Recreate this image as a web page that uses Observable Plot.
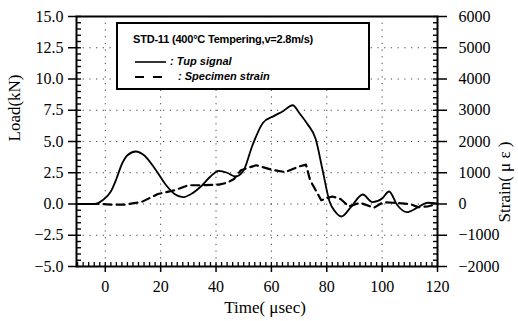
<!DOCTYPE html>
<html>
<head>
<meta charset="utf-8">
<script src="https://cdn.jsdelivr.net/npm/d3@7"></script>
<script src="https://cdn.jsdelivr.net/npm/@observablehq/plot@0.6"></script>
<style>
  html, body { margin: 0; padding: 0; background: white; }
  #wrap { position: relative; width: 518px; height: 321px; }
  #legend {
    position: absolute; left: 116px; top: 22px; width: 254px; height: 68px;
    box-sizing: border-box; border: 2px solid black; background: white;
    font-family: "Liberation Sans", sans-serif; font-size: 11px; font-weight: bold; color: black;
  }
  #legend .title { position: absolute; left: 15px; top: 9px; white-space: nowrap; letter-spacing: -0.2px; }
  #legend .item { position: absolute; left: 17px; white-space: nowrap; font-style: italic; }
  #legend svg { vertical-align: middle; }
</style>
</head>
<body>
<div id="wrap"></div>
<script>
// ---- data ----
const tupTime = [-10, -4, -1, 2, 4, 6, 8, 11, 14, 18, 22, 25, 28, 31, 35, 38, 41, 44, 47, 50, 53, 57, 61, 64, 67.7, 70, 73, 76, 78.5, 81, 83, 85.3, 88.7, 93, 96.5, 100, 102.5, 105.5, 109, 113, 116.5, 120];
const tupLoad = [0, 0, 0.3, 1.0, 2.0, 3.2, 3.9, 4.2, 3.9, 2.8, 1.5, 0.8, 0.55, 0.8, 1.5, 2.2, 2.65, 2.5, 2.2, 2.7, 4.6, 6.5, 7.05, 7.4, 7.9, 7.3, 6.4, 5.2, 2.7, 0.2, -0.6, -1.0, -0.25, 0.76, 0.15, 0.44, 1.0, -0.1, -0.65, -0.25, 0.1, 0.05];

const strainTime = [-10, -2, 2, 7, 13, 19, 25, 30, 35, 41, 44, 46.5, 49, 54.5, 60, 65, 70, 72.5, 74, 76, 78, 82, 85, 88, 92, 97, 100.5, 104, 110, 113, 116.5, 118];
const strainVal = [0, 0, -20, -20, 60, 320, 440, 600, 600, 620, 680, 800, 1080, 1240, 1100, 1020, 1200, 1260, 760, 440, 120, 240, 160, -80, 40, -120, 60, 40, 0, -100, -80, -40];

const loadTicks = [-5, -2.5, 0, 2.5, 5, 7.5, 10, 12.5, 15];
const loadTickLabels = ["\u22125.0", "\u22122.5", "0.0", "2.5", "5.0", "7.5", "10.0", "12.5", "15.0"];
const strainTicks = [-2000, -1000, 0, 1000, 2000, 3000, 4000, 5000, 6000];
const strainTickLabels = ["\u22122000", "\u22121000", "0", "1000", "2000", "3000", "4000", "5000", "6000"];
const timeTicks = [0, 20, 40, 60, 80, 100, 120];
const timeGrid = [0, 20, 40, 60, 80, 100];
const loadGrid = [-2.5, 0, 2.5, 5, 7.5, 10, 12.5];
const strainPerKN = 400; // right axis ratio: 15 kN <-> 6000 με

const tup = tupTime.map((t, i) => ({t, v: tupLoad[i]}));
const strain = strainTime.map((t, i) => ({t, v: strainVal[i] / strainPerKN}));

const minorY = d3.range(-5, 15.001, 0.5);
const minorX = d3.range(-10, 120.001, 2);

const W = 518, H = 321, ML = 76, MR = 81, MT = 16, MB = 55;
const FW = W - ML - MR, FH = H - MT - MB;

const chart = Plot.plot({
  width: W, height: H,
  marginLeft: ML, marginRight: MR, marginTop: MT, marginBottom: MB,
  x: {domain: [-10.4, 120]},
  y: {domain: [-5, 15]},
  style: {fontFamily: "'Liberation Serif', serif", fontSize: "16px", color: "black", background: "white"},
  marks: [
    Plot.gridX(timeGrid, {stroke: "black", strokeOpacity: 0.75, strokeDasharray: "1.2,5.5", strokeWidth: 1}),
    Plot.gridY(loadGrid, {stroke: "black", strokeOpacity: 0.75, strokeDasharray: "1.2,5.5", strokeWidth: 1}),
    // minor ticks, pointing inward
    Plot.axisY(minorY, {anchor: "left", tickSize: 5, dx: 5, stroke: "black", strokeWidth: 1.4, tickFormat: () => "", label: null}),
    Plot.axisY(minorY, {anchor: "right", tickSize: 5, dx: -5, stroke: "black", strokeWidth: 1.4, tickFormat: () => "", label: null}),
    Plot.tickX(minorX, {x: d => d, insetTop: FH - 4, stroke: "black", strokeWidth: 1.3}),
    // major ticks
    Plot.axisY(loadTicks, {anchor: "left", tickSize: 8, tickPadding: 5, strokeWidth: 1.5,
      tickFormat: d => loadTickLabels[loadTicks.indexOf(d)], label: null, fontSize: 16}),
    Plot.axisY(strainTicks.map(s => s / strainPerKN), {anchor: "right", tickSize: 9, tickPadding: 12, strokeWidth: 1.5,
      tickFormat: d => strainTickLabels[strainTicks.indexOf(Math.round(d * strainPerKN))], label: null, fontSize: 16}),
    Plot.axisX(timeTicks, {anchor: "bottom", tickSize: 6, tickPadding: 8, strokeWidth: 1.5,
      tickFormat: d => String(d), label: null, fontSize: 16}),
    Plot.frame({stroke: "black", strokeWidth: 2}),
    Plot.line(strain, {x: "t", y: "v", stroke: "black", strokeWidth: 2.2, strokeDasharray: "8,5", curve: "linear"}),
    Plot.line(tup, {x: "t", y: "v", stroke: "black", strokeWidth: 1.8, curve: "monotone-x"}),
    Plot.text(["Load(kN)"], {frameAnchor: "left", dx: -62, rotate: -90, fontSize: 17}),
    Plot.text(["Strain( \u03BC \u03B5 )"], {frameAnchor: "right", dx: 67, rotate: -90, fontSize: 17}),
    Plot.text(["Time( \u03BCsec)"], {frameAnchor: "bottom", dx: 8, dy: 46, fontSize: 17})
  ]
});

const wrap = document.getElementById("wrap");
wrap.appendChild(chart);

const legend = document.createElement("div");
legend.id = "legend";
legend.innerHTML = `
  <div class="title">STD-11 (400°C Tempering,v=2.8m/s)</div>
  <div class="item" style="top:31px"><svg width="32" height="6"><line x1="0" y1="3" x2="31" y2="3" stroke="black" stroke-width="1.6"/></svg> : Tup signal</div>
  <div class="item" style="top:46px"><svg width="40" height="6"><line x1="0" y1="3" x2="30" y2="3" stroke="black" stroke-width="2" stroke-dasharray="9,9"/></svg> : Specimen strain</div>
`;
wrap.appendChild(legend);
</script>
</body>
</html>
